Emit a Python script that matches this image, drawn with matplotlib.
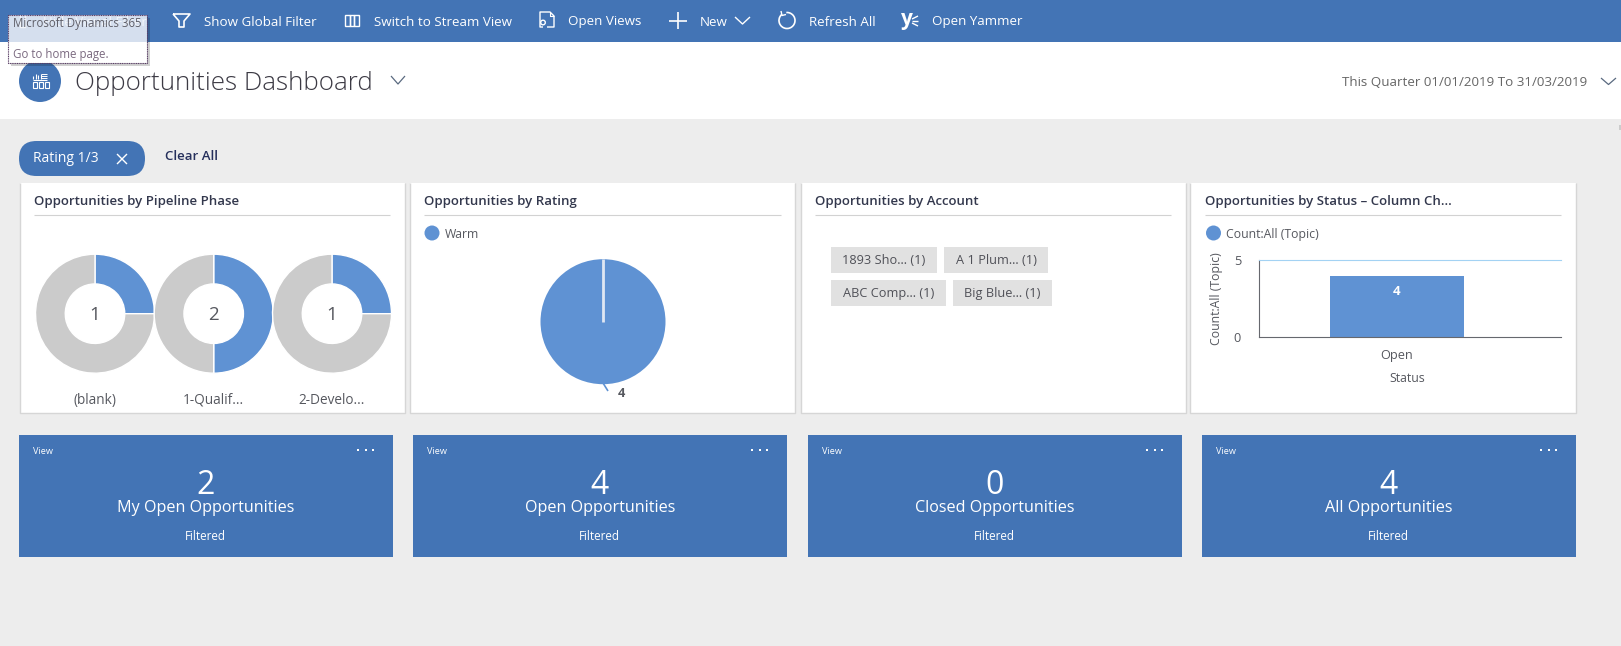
import matplotlib
matplotlib.use("Agg")
import matplotlib.pyplot as plt
from matplotlib.patches import Rectangle, Circle, FancyBboxPatch, Arc

W, H = 1621, 646
BLUE = "#4374b5"
CHART_BLUE = "#5f92d3"
GREY_BG = "#ededed"
DONUT_GREY = "#cbcbcb"
TITLE_COL = "#33384d"
LABEL_COL = "#56585f"

# data
toolbar_labels = ["Show Global Filter", "Switch to Stream View", "Open Views", "New", "Refresh All", "Open Yammer"]
card_titles = ["Opportunities by Pipeline Phase", "Opportunities by Rating",
               "Opportunities by Account", "Opportunities by Status – Column Ch..."]
phase_labels = ["(blank)", "1-Qualif...", "2-Develo..."]
phase_counts = [1, 2, 1]
phase_rest = [3, 2, 3]
rating_labels = ["Warm"]
rating_counts = [4]
account_chips = ["1893 Sho... (1)", "A 1 Plum... (1)", "ABC Comp... (1)", "Big Blue... (1)"]
status_labels = ["Open"]
status_counts = [4]
status_ticks = [0, 5]
tile_names = ["My Open Opportunities", "Open Opportunities", "Closed Opportunities", "All Opportunities"]
tile_counts = [2, 4, 0, 4]

plt.rcParams["font.family"] = ["Open Sans", "DejaVu Sans"]

fig = plt.figure(figsize=(W / 100, H / 100), dpi=100, facecolor=GREY_BG)

# whole page in pixel coords, y going down
page = fig.add_axes([0, 0, 1, 1])
page.set_xlim(0, W)
page.set_ylim(H, 0)
page.axis("off")


def txt(x, y, s, size=10, color=LABEL_COL, ha="left", **kw):
    return page.text(x, y + 1, s, fontsize=size, color=color, ha=ha, va="center", **kw)


def rect(x0, y0, x1, y1, color, **kw):
    page.add_patch(Rectangle((x0, y0), x1 - x0, y1 - y0, facecolor=color, edgecolor="none", **kw))


def line(xs, ys, color="white", lw=1.2, **kw):
    page.plot(xs, ys, color=color, lw=lw, solid_capstyle="butt", **kw)


def pixel_axes(x0, y0, x1, y1):
    return fig.add_axes([x0 / W, 1 - y1 / H, (x1 - x0) / W, (y1 - y0) / H])


# ── header ───────────────────────────────────
rect(0, 0, W, 42, BLUE)
rect(0, 42, W, 119, "white")

toolbar_x = [203.5, 373.5, 568.5, 700, 809, 932]
for x, s in zip(toolbar_x, toolbar_labels):
    txt(x, 21, s, size=9.6, color="white")

# funnel
line([173, 190, 184, 184, 179, 179, 173], [14, 14, 21, 27, 27, 21, 14])
# stream view columns
for x in [345, 349.5, 354]:
    page.add_patch(Rectangle((x, 14.5), 4.5, 11, facecolor="none", edgecolor="white", lw=1))
# open views document
line([543, 540, 540, 550, 554, 554, 547], [27, 27, 12, 12, 16, 27, 27], lw=1)
line([550, 550, 554], [12, 16, 16], lw=0.8)
page.add_patch(Circle((543, 22.5), 2.3, facecolor=BLUE, edgecolor="white", lw=1))
# plus
line([669, 687], [20.5, 20.5])
line([678, 678], [12, 29])
# new chevron
line([735, 742.5, 750], [17, 24, 17], lw=1)
# refresh
page.add_patch(Arc((787, 20.5), 16, 16, theta1=265, theta2=590, color="white", lw=1.2))
line([781, 782, 786], [11, 15.5, 14.5], lw=1)
# yammer
txt(901, 18, "y", size=15, color="white", fontweight="bold")
line([912, 918], [19, 16], lw=1)
line([912, 918], [21, 21], lw=1)
line([912, 918], [23, 26], lw=1)

# page title
page.add_patch(Circle((40, 81), 21, facecolor=BLUE, edgecolor="none"))
for x in [33, 39, 45]:
    page.add_patch(Rectangle((x, 82), 4, 6, facecolor="none", edgecolor="white", lw=0.8))
line([33, 47], [80, 80], lw=0.8)
for x, top in zip([33, 35.5, 38, 41], [76, 74, 75, 74]):
    line([x, x], [top, 79], lw=0.8)
for y in [74, 76, 78]:
    line([41, 47], [y, y], lw=0.7)
txt(75, 82, "Opportunities Dashboard", size=18.7, color="#3c3a44", fontweight="light")
line([391, 398, 405], [76, 84, 76], color="#5a6a80", lw=0.9)
txt(1342, 82, "This Quarter 01/01/2019 To 31/03/2019", size=9.6, color="#666666")
line([1601, 1608.5, 1616], [78, 84.5, 78], color="#5a6a80", lw=0.9)
rect(1619, 125, 1621, 130, "#cccccc")

# filter pill
page.add_patch(FancyBboxPatch((19 + 17.5, 141 + 17.5), 126 - 35, 0, boxstyle="round,pad=17.5,rounding_size=17.5",
                              facecolor=BLUE, edgecolor="none"))
txt(33, 158, "Rating 1/3", size=10, color="white")
line([117, 127], [154, 164], lw=1)
line([117, 127], [164, 154], lw=1)
txt(165, 155.5, "Clear All", size=9.5, color="#26305c", fontweight="semibold")

# ── cards ────────────────────────────────────
card_x = [(19.5, 404.5), (409.5, 795), (800.5, 1185.5), (1190, 1575.5)]
sep_x = [(34, 390), (424, 781), (815, 1171), (1205, 1561)]
CARD_TOP, CARD_BOTTOM = 183, 413
for (x0, x1), (s0, s1), title in zip(card_x, sep_x, card_titles):
    rect(x0, CARD_TOP, x1, CARD_BOTTOM, "white")
    line([x0, x0, x1, x1], [CARD_TOP, CARD_BOTTOM, CARD_BOTTOM, CARD_TOP], color="#d6d6d6", lw=1)
    line([s0, s1], [214.5, 214.5], color="#d2d2d2", lw=0.8)
    txt(s0, 200.5, title, size=9.5, color=TITLE_COL, fontweight="semibold")

# donuts
donut_cx = [95, 213.7, 332]
DONUT_CY, DONUT_R = 313.7, 59.5
for cx, count, rest, name in zip(donut_cx, phase_counts, phase_rest, phase_labels):
    ax = pixel_axes(cx - DONUT_R, DONUT_CY - DONUT_R, cx + DONUT_R, DONUT_CY + DONUT_R)
    ax.pie([count, rest], colors=[CHART_BLUE, DONUT_GREY], startangle=90, counterclock=False,
           radius=1.0, wedgeprops={"width": 0.5, "edgecolor": "white", "linewidth": 1})
    ax.set_xlim(-1, 1)
    ax.set_ylim(-1, 1)
    ax.text(0, -0.02, str(count), fontsize=13.5, color=LABEL_COL, ha="center", va="center")
    txt(cx, 399.5, name, size=9.8, ha="center")

# rating pie, seam at 12 o'clock
R = 62.5
ax = pixel_axes(603 - R, 321.7 - R, 603 + R, 321.7 + R)
ax.pie(rating_counts, colors=[CHART_BLUE], startangle=90, counterclock=False, radius=1.0)
ax.plot([0, 0], [0, 1], color="#dfe7f3", lw=2, solid_capstyle="butt")
ax.set_xlim(-1, 1)
ax.set_ylim(-1, 1)
page.add_patch(Circle((432, 233), 7.5, facecolor=CHART_BLUE, edgecolor="none"))
txt(445, 233.5, rating_labels[0], size=8.8)
line([603, 608], [383, 391], color=CHART_BLUE, lw=1.2)
txt(621, 392.5, str(rating_counts[0]), size=9.2, ha="center", fontweight="bold")

# account chips
chip_x = [(831, 937), (944, 1048), (831, 946), (953, 1052)]
chip_y = [(247, 273), (247, 273), (280, 306), (280, 306)]
for (x0, x1), (y0, y1), s in zip(chip_x, chip_y, account_chips):
    rect(x0, y0, x1, y1, "#e1e1e1")
    txt((x0 + x1) / 2, (y0 + y1) / 2, s, size=9.2, ha="center", color="#505158")

# status column chart
page.add_patch(Circle((1213.5, 233), 7.5, facecolor=CHART_BLUE, edgecolor="none"))
txt(1226, 233.5, "Count:All (Topic)", size=8.8)
AX_L, AX_R = 1259, 1561
ax = pixel_axes(AX_L, 260.3, AX_R, 337)
ax.patch.set_alpha(0)
ax.bar(status_labels, status_counts, width=0.8, color=CHART_BLUE)
ax.set_xlim(-(1397 - AX_L) / 167.5, (AX_R - 1397) / 167.5)
ax.set_ylim(status_ticks[0], status_ticks[-1])
ax.set_yticks(status_ticks)
ax.tick_params(length=0, labelsize=9.2, labelcolor=LABEL_COL)
ax.tick_params(axis="x", pad=8.3)
ax.tick_params(axis="y", pad=13)
for side in ["left", "bottom"]:
    ax.spines[side].set_color("#66686e")
ax.spines["top"].set_color("#a3d2f3")
ax.spines["right"].set_visible(False)
ax.set_ylabel("Count:All (Topic)", fontsize=8.8, color=LABEL_COL, labelpad=7.5)
ax.set_xlabel("Status", fontsize=8.8, color=LABEL_COL, x=(1407 - AX_L) / (AX_R - AX_L), labelpad=7.5)
ax.text(0, 2.95, str(status_counts[0]), fontsize=9.5, color="white", ha="center", va="center", fontweight="bold")

# ── tiles ────────────────────────────────────
tile_x = [19, 413, 808, 1202]
TILE_W = 373.5
for x, name, n in zip(tile_x, tile_names, tile_counts):
    rect(x, 435, x + TILE_W, 557, BLUE)
    txt(x + 14, 450, "View", size=6.6, color="white")
    for dx in [338, 345.5, 353]:
        rect(x + dx, 449, x + dx + 2, 451, "white")
    txt(x + TILE_W / 2, 485, str(n), size=23, color="white", ha="center")
    txt(x + TILE_W / 2, 507, name, size=11.6, color="white", ha="center")
    txt(x + TILE_W / 2, 535, "Filtered", size=8.4, color="white", ha="center", fontweight="medium")

# ── hover tooltip over the toolbar ───────────
rect(10.5, 17.5, 149.5, 66, "#000000", alpha=0.18)
rect(7.5, 14.5, 146.5, 63, "white")
rect(7.5, 14.5, 146.5, 42, "#d5dfee")
# the toolbar button under the tooltip still shows through
line([20, 20, 25, 25], [15, 27, 27, 15], lw=1, alpha=0.7)
txt(43, 21, "Hide Visual Filter", size=9.6, color="white", alpha=0.7)
txt(13, 23, "Microsoft Dynamics 365", size=8.3, color="#5f5f68")
txt(13, 53.5, "Go to home page.", size=8.3, color="#7b6a80")
page.add_patch(Rectangle((7.5, 14.5), 139, 48.5, facecolor="none", edgecolor="#5a3f66", lw=0.8, ls=(0, (1, 0.6))))

fig.savefig("out.png", dpi=100, facecolor=fig.get_facecolor())
